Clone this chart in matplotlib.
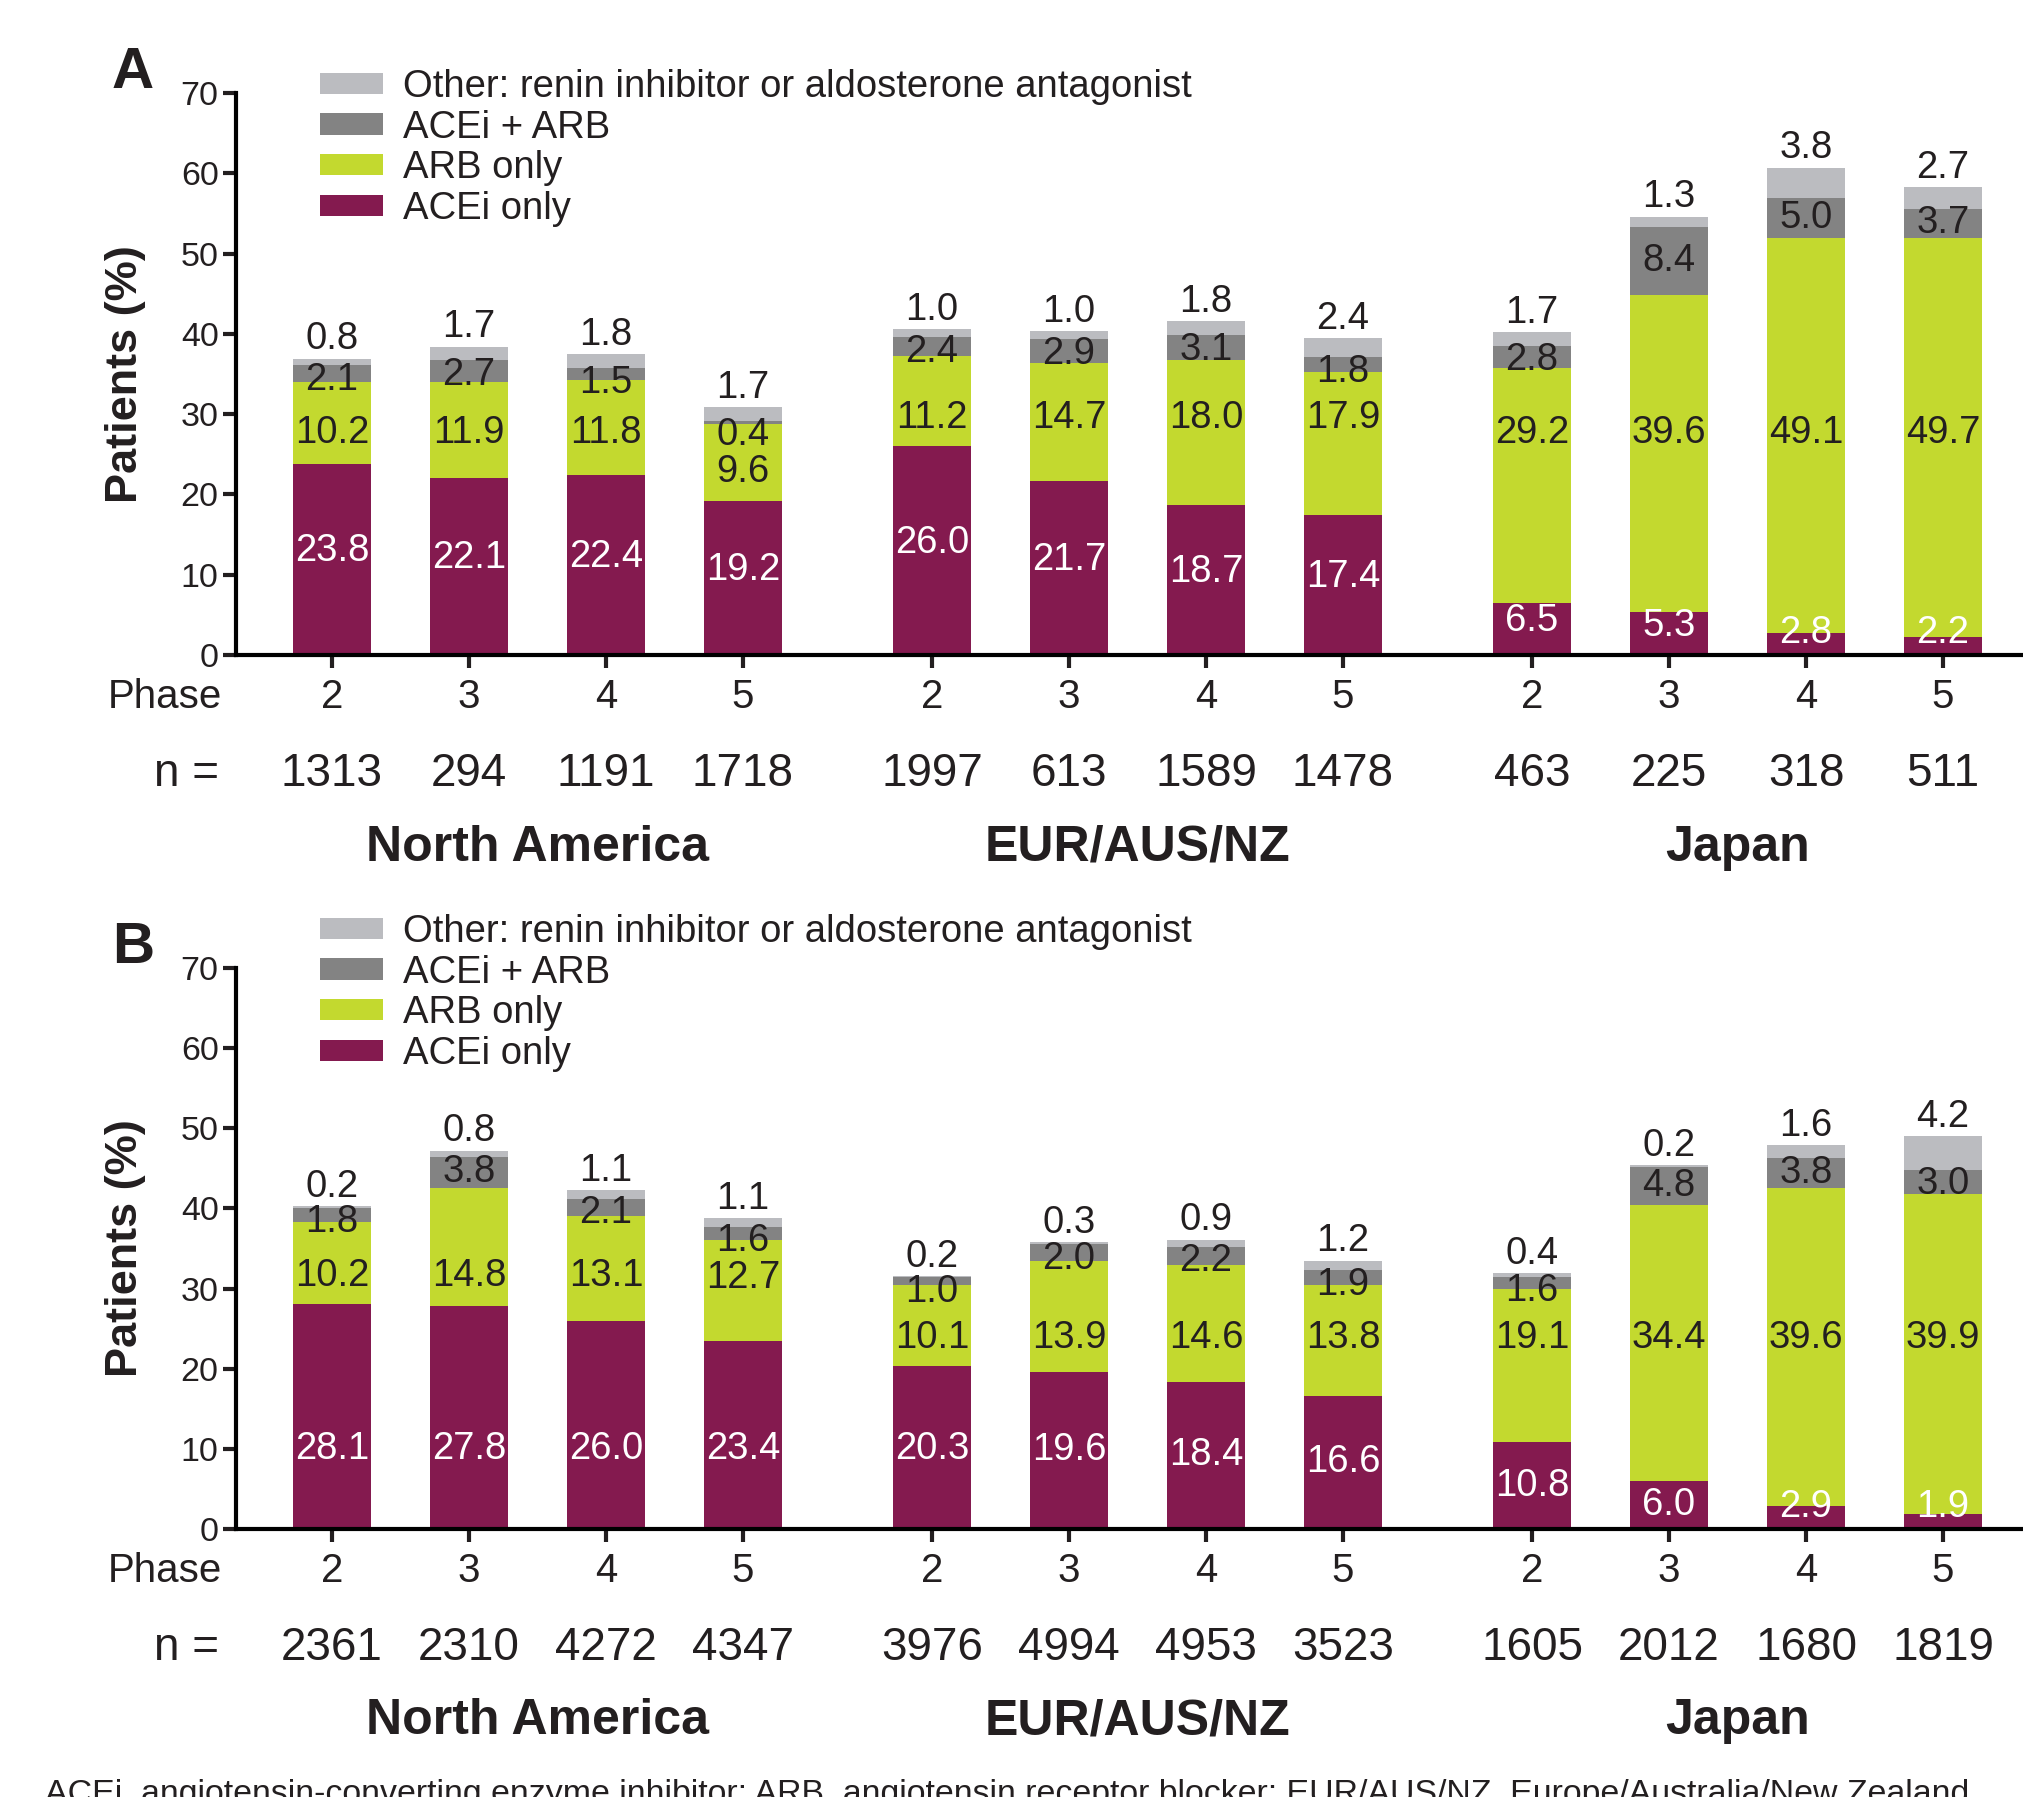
import numpy as np
import matplotlib.pyplot as plt
from matplotlib.patches import Patch

plt.rcParams['font.family'] = ['Liberation Sans', 'DejaVu Sans']

W, H = 2023, 1797
DARK = '#231f20'

# colours
c_acei = '#841a4f'
c_arb = '#c3d92f'
c_combo = '#838383'
c_other = '#bbbcc0'

regions = ['North America', 'EUR/AUS/NZ', 'Japan']
phases = ['2', '3', '4', '5']

# Panel A
a_acei = [23.8, 22.1, 22.4, 19.2, 26.0, 21.7, 18.7, 17.4, 6.5, 5.3, 2.8, 2.2]
a_arb = [10.2, 11.9, 11.8, 9.6, 11.2, 14.7, 18.0, 17.9, 29.2, 39.6, 49.1, 49.7]
a_combo = [2.1, 2.7, 1.5, 0.4, 2.4, 2.9, 3.1, 1.8, 2.8, 8.4, 5.0, 3.7]
a_other = [0.8, 1.7, 1.8, 1.7, 1.0, 1.0, 1.8, 2.4, 1.7, 1.3, 3.8, 2.7]
a_n = [1313, 294, 1191, 1718, 1997, 613, 1589, 1478, 463, 225, 318, 511]

# Panel B
b_acei = [28.1, 27.8, 26.0, 23.4, 20.3, 19.6, 18.4, 16.6, 10.8, 6.0, 2.9, 1.9]
b_arb = [10.2, 14.8, 13.1, 12.7, 10.1, 13.9, 14.6, 13.8, 19.1, 34.4, 39.6, 39.9]
b_combo = [1.8, 3.8, 2.1, 1.6, 1.0, 2.0, 2.2, 1.9, 1.6, 4.8, 3.8, 3.0]
b_other = [0.2, 0.8, 1.1, 1.1, 0.2, 0.3, 0.9, 1.2, 0.4, 0.2, 1.6, 4.2]
b_n = [2361, 2310, 4272, 4347, 3976, 4994, 4953, 3523, 1605, 2012, 1680, 1819]

gap = 0.38
x = np.concatenate([np.arange(4) + g * (4 + gap) for g in range(3)])
bar_w = 0.565


def draw_panel(ax, acei, arb, combo, other, n, letter, arb_pref, acei_off, acei_cap):
    acei, arb, combo, other = map(np.array, (acei, arb, combo, other))
    b1 = acei
    b2 = b1 + arb
    b3 = b2 + combo
    top = b3 + other
    ax.bar(x, acei, bar_w, color=c_acei, lw=0)
    ax.bar(x, arb, bar_w, bottom=b1, color=c_arb, lw=0)
    ax.bar(x, combo, bar_w, bottom=b2, color=c_combo, lw=0)
    ax.bar(x, other, bar_w, bottom=b3, color=c_other, lw=0)

    fs = 27.5
    for g in range(3):
        idx = range(g * 4, g * 4 + 4)
        row = max(arb_pref, max(b1[i] for i in idx) + 3.5)
        for i in idx:
            # ACEi only
            ya = min(max(acei[i] / 2 + acei_off, 2.7), acei_cap)
            ax.text(x[i], ya, f'{acei[i]:.1f}', ha='center', va='center',
                    color='white', fontsize=fs)
            # ACEi + ARB
            yc = min((b2[i] + b3[i]) / 2, b3[i] - 1.8)
            ax.text(x[i], yc, f'{combo[i]:.1f}', ha='center', va='center',
                    color=DARK, fontsize=fs)
            # ARB only
            yb = min(row, b2[i] - 2.5, yc - 4.6)
            ax.text(x[i], yb, f'{arb[i]:.1f}', ha='center', va='center',
                    color=DARK, fontsize=fs)
            # other
            ax.text(x[i], top[i] + 2.4, f'{other[i]:.1f}', ha='center',
                    va='center', color=DARK, fontsize=fs)

    ax.set_ylim(0, 70)
    ax.set_xlim(-0.70, -0.70 + (W - 236) / 137)
    ax.set_yticks(range(0, 71, 10))
    ax.set_xticks(x)
    ax.set_xticklabels([])
    ax.tick_params(axis='y', length=9.5, width=3, labelsize=24.5, pad=3,
                   colors=DARK)
    ax.tick_params(axis='x', length=9, width=3, colors=DARK)
    for s in ['top', 'right']:
        ax.spines[s].set_visible(False)
    for s in ['left', 'bottom']:
        ax.spines[s].set_linewidth(3)
        ax.spines[s].set_color('black')

    tr = ax.get_xaxis_transform()
    ax.text(-0.008, -0.074, 'Phase', transform=ax.transAxes, ha='right',
            va='center', fontsize=29, color=DARK)
    ax.text(-0.0095, -0.212, 'n =', transform=ax.transAxes, ha='right',
            va='center', fontsize=33, color=DARK)
    for i in range(12):
        ax.text(x[i], -0.074, phases[i % 4], transform=tr, ha='center',
                va='center', fontsize=29, color=DARK)
        ax.text(x[i], -0.212, str(n[i]), transform=tr, ha='center',
                va='center', fontsize=33, color=DARK)
    for g in range(3):
        ax.text(x[g * 4:g * 4 + 4].mean(), -0.343, regions[g], transform=tr,
                ha='center', va='center', fontsize=36, fontweight='bold',
                color=DARK)
    ax.text(-0.062, 0.5, 'Patients (%)', transform=ax.transAxes, rotation=90,
            ha='center', va='center', fontsize=32.5, fontweight='bold',
            color=DARK)
    ax.text(-0.0576, 1.036, letter, transform=ax.transAxes, ha='center',
            va='center', fontsize=42, fontweight='bold', color=DARK)


fig = plt.figure(figsize=(W / 100, H / 100), dpi=100)
axA = fig.add_axes([236 / W, 1 - 655 / H, (W - 236) / W, (655 - 93) / H])
axB = fig.add_axes([236 / W, 1 - 1529 / H, (W - 236) / W, (1529 - 968) / H])

draw_panel(axA, a_acei, a_arb, a_combo, a_other, a_n, 'A', 27.6, 1.0, 16)
draw_panel(axB, b_acei, b_arb, b_combo, b_other, b_n, 'B', 23.8, 0.0, 10)

handles = [Patch(color=c_other, lw=0), Patch(color=c_combo, lw=0),
           Patch(color=c_arb, lw=0), Patch(color=c_acei, lw=0)]
labels = ['Other: renin inhibitor or aldosterone antagonist', 'ACEi + ARB',
          'ARB only', 'ACEi only']
for y0 in (69, 914):
    fig.legend(handles, labels, loc='upper left',
               bbox_to_anchor=(320 / W, 1 - y0 / H), frameon=False,
               fontsize=27.5, borderpad=0, borderaxespad=0,
               handlelength=1.66, handleheight=0.47, handletextpad=0.52,
               labelspacing=0.12, labelcolor=DARK)

fig.text(45 / W, 1 - 1779 / H,
         'ACEi, angiotensin-converting enzyme inhibitor; ARB, angiotensin '
         'receptor blocker; EUR/AUS/NZ, Europe/Australia/New Zealand.',
         ha='left', va='top', fontsize=24.4, color=DARK)

fig.savefig('out.png', dpi=100)
